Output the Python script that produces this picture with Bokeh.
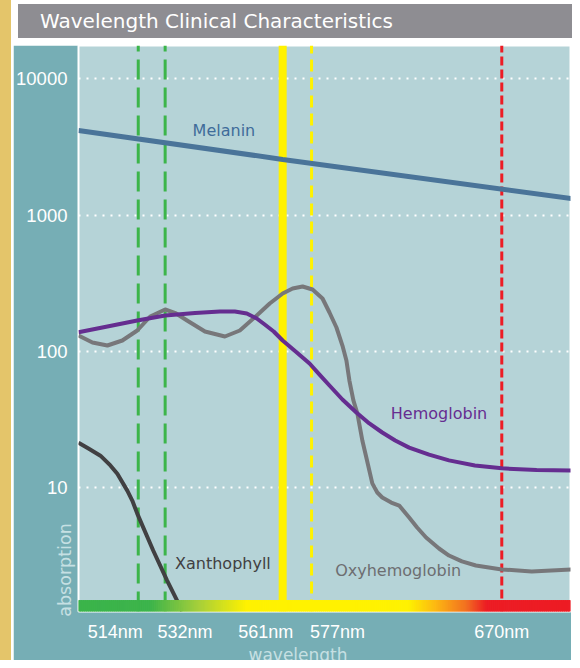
import numpy as np
from bokeh.plotting import figure
from bokeh.models import Range1d, FixedTicker, Label, Div, Spacer, Title
from bokeh.layouts import column, row
from bokeh.embed import file_html
from bokeh.resources import INLINE

# ---------------- data ----------------
# x axis is an arbitrary position scale (0 = left edge of plot area)
line_names = ["514nm", "532nm", "561nm", "577nm", "670nm"]
line_pos = [60, 87, 205, 234, 425]
tick_label_pos = [37, 107, 188, 260, 425]

y_ticks = [10, 100, 1000, 10000]
y_tick_labels = ["10", "100", "1000", "10000"]

melanin_x = [0, 205, 495]
melanin_y = [4170, 2560, 1320]

hemoglobin_x = [0, 29, 59, 87, 117, 142, 157, 169, 179, 187, 196, 205, 218, 232, 242,
                252, 265, 279, 292, 305, 318, 332, 352, 372, 398, 425, 460, 495]
hemoglobin_y = [137.9, 151.9, 168.1, 182.9, 190.8, 195.6, 195.6, 189.2, 173.8, 157.0,
                139.5, 119.8, 99.5, 81.2, 67.4, 56.0, 44.2, 35.5, 29.5, 25.3, 22.1,
                19.6, 17.4, 15.8, 14.5, 13.8, 13.4, 13.3]

oxy_x = [0, 14, 29, 44, 59, 72, 87, 98, 109, 127, 147, 162, 179, 192, 205, 215, 225,
         235, 245, 252, 259, 265, 269, 272, 276, 280, 285, 289, 295, 300, 305, 314,
         322, 332, 340, 349, 362, 372, 385, 399, 425, 455, 495]
oxy_y = [130.4, 115.8, 110.1, 119.8, 141.9, 179.8, 202.4, 189.2, 168.1, 139.5, 128.2,
         141.9, 182.9, 223.9, 265.2, 288.7, 298.5, 283.8, 243.8, 192.4, 149.3, 110.1,
         85.4, 60.9, 43.5, 34.9, 22.1, 16.6, 10.7, 9.17, 8.43, 7.74, 7.36, 6.01, 5.08,
         4.29, 3.56, 3.16, 2.86, 2.67, 2.50, 2.41, 2.50]

xan_x = [0, 10, 22, 32, 39, 49, 54, 59, 75, 89, 99, 104]
xan_y = [21.3, 19.3, 17.1, 14.5, 12.6, 9.47, 8.01, 6.42, 3.44, 2.07, 1.475, 1.23]

# ---------------- styles ----------------
GOLD = "#e4c56a"
TEAL = "#76aeb5"
PLOT_BG = "#b5d3d7"
BAR_GRAY = "#8e8d92"
AXIS_TITLE = "#c6e0e3"

Y_MIN, Y_MAX = 1.227, 17560
BAND_TOP = 1.477
X_MAX = 494

line_colors = ["#3cb54a", "#3cb54a", "#fff200", "#fff200", "#ed1c24"]
line_widths = [3, 3, 8, 3, 3]
line_dashes = ["20 8", "20 8", "solid", "12 6", "9 4"]

p = figure(width=558, height=623, x_range=Range1d(0, X_MAX),
           y_range=Range1d(Y_MIN, Y_MAX), y_axis_type="log",
           output_backend="svg", toolbar_location=None,
           min_border_left=63, min_border_right=1, min_border_top=0,
           min_border_bottom=57)
p.background_fill_color = PLOT_BG
p.border_fill_color = TEAL
p.outline_line_color = "white"
p.outline_line_width = 2

p.xgrid.visible = False
p.ygrid.ticker = FixedTicker(ticks=y_ticks)
p.ygrid.grid_line_color = "white"
p.ygrid.grid_line_width = 2
p.ygrid.grid_line_dash = "2 6"

for ax in (p.xaxis[0], p.yaxis[0]):
    ax.axis_line_color = None
    ax.major_tick_line_color = None
    ax.minor_tick_line_color = None
    ax.major_tick_in = 0
    ax.major_tick_out = 0
    ax.major_label_text_color = "white"
    ax.major_label_text_font = "Liberation Sans"

p.yaxis.ticker = FixedTicker(ticks=y_ticks)
p.yaxis.major_label_overrides = dict(zip(y_ticks, y_tick_labels))
p.yaxis.major_label_text_font_size = "18.5px"
p.yaxis.major_label_standoff = 11

p.xaxis.ticker = FixedTicker(ticks=tick_label_pos)
p.xaxis.major_label_overrides = dict(zip(tick_label_pos, line_names))
p.xaxis.major_label_text_font_size = "18px"
p.xaxis.major_label_standoff = 10

# x axis title (placed as a title panel below the axis)
p.add_layout(Title(text="wavelength", align="left", offset=170, standoff=0,
                   vertical_align="top",
                   text_color=AXIS_TITLE, text_font="DejaVu Sans",
                   text_font_size="17px", text_font_style="normal"), "below")

# vertical wavelength lines
for pos, c, w, d in zip(line_pos, line_colors, line_widths, line_dashes):
    p.segment(x0=[pos], y0=[Y_MIN], x1=[pos], y1=[Y_MAX], line_color=c,
              line_width=w, line_dash=d)

# curves
p.line(xan_x, xan_y, line_color="#414042", line_width=4, line_join="round")
p.line(oxy_x, oxy_y, line_color="#77777a", line_width=4, line_join="round")
p.line(hemoglobin_x, hemoglobin_y, line_color="#652d90", line_width=4,
       line_join="round")
p.line(melanin_x, melanin_y, line_color="#4a7499", line_width=5)

# spectrum band at the bottom
stop_pos = [0, 72, 122, 169, 332, 359, 390, 410, X_MAX]
stop_cols = ["#3cb44b", "#3cb44b", "#a9d03a", "#fff200", "#fff200", "#fdb813",
             "#f36f21", "#ed1c24", "#ed1c24"]
rgb = np.array([[int(c[i:i + 2], 16) for i in (1, 3, 5)] for c in stop_cols], float)
edges = np.arange(0, X_MAX + 1, 2)
mids = edges[:-1] + 1
cols = []
for m in mids:
    r = np.interp(m, stop_pos, rgb[:, 0]); g = np.interp(m, stop_pos, rgb[:, 1])
    b = np.interp(m, stop_pos, rgb[:, 2])
    cols.append("#%02x%02x%02x" % (int(r), int(g), int(b)))
p.quad(left=edges[:-1], right=edges[1:], bottom=Y_MIN, top=BAND_TOP,
       fill_color=cols, line_color=cols, line_width=1)

# curve labels
lab_font = "DejaVu Sans"
for txt, x, y, c in [("Melanin", 146, 4170, "#3f6c9a"),
                     ("Hemoglobin", 362, 34.9, "#662d91"),
                     ("Oxyhemoglobin", 321, 2.45, "#6d6e71"),
                     ("Xanthophyll", 145, 2.76, "#414042")]:
    p.add_layout(Label(x=x, y=y, text=txt, text_color=c, text_font=lab_font,
                       text_font_size="16px", text_align="center",
                       text_baseline="middle"))

title = Div(text=('<div style="background:%s;color:#fff;font-family:\'DejaVu Sans\';'
                  'font-size:20px;height:34px;line-height:34px;padding-left:22px;'
                  'width:558px;box-sizing:border-box;white-space:nowrap;">'
                  'Wavelength Clinical Characteristics</div>') % BAR_GRAY,
            width=558, height=34)

# y axis title, drawn over the left margin of the plot
y_title = Div(text=('<div style="position:relative;display:inline-block;left:48px;'
                    'top:-105px;transform:translate(-50%%,-50%%) rotate(-90deg);'
                    'color:%s;font-family:\'DejaVu Sans\';font-size:17.5px;'
                    'line-height:1;white-space:nowrap;z-index:5;">absorption</div>')
              % AXIS_TITLE,
              width=558, height=20, styles={"overflow": "visible", "z-index": "5"})

inner = column(title, p, y_title, spacing=2,
               styles={"background-color": "white", "border": "2px solid white",
                       "border-bottom": "none", "flex-shrink": "0"})
left_pad = Spacer(width=19, height=620,
                  styles={"flex-shrink": "0", "min-width": "19px"})
outer = column(Spacer(width=580, height=5),
               row(left_pad, inner),
               width=580, height=668,
               styles={"margin": "-8px", "background-color": GOLD,
                       "overflow": "hidden"})

open("out.html", "w").write(file_html(outer, INLINE))
